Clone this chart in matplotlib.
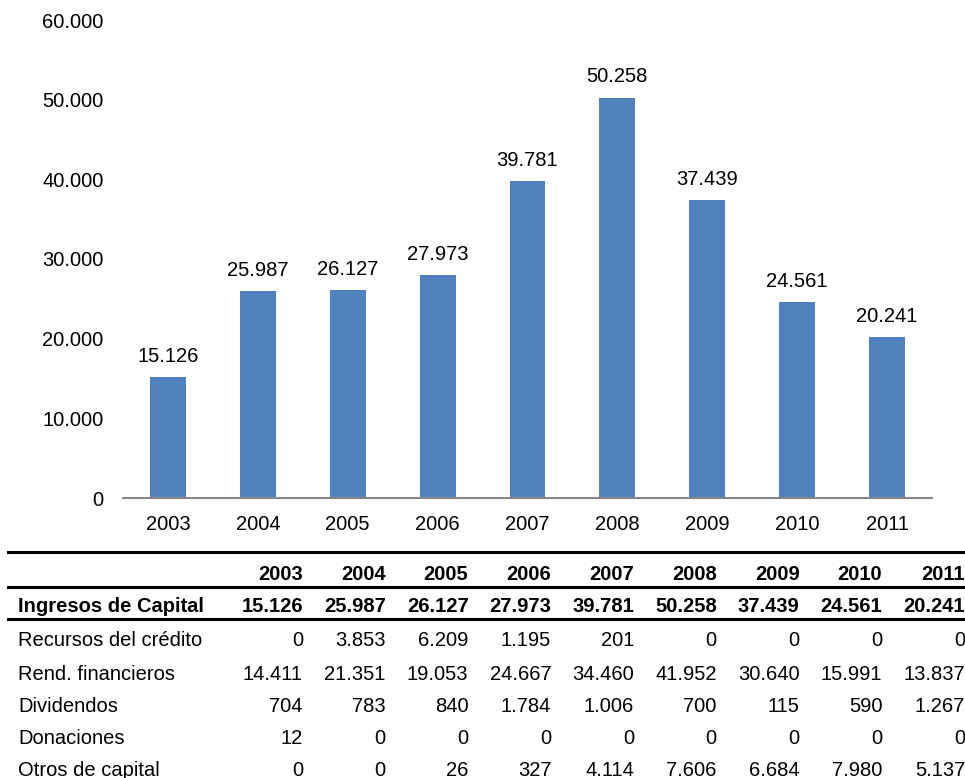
import matplotlib.pyplot as plt
from matplotlib.lines import Line2D

plt.rcParams['font.family'] = ['Liberation Sans', 'DejaVu Sans']

years = ['2003', '2004', '2005', '2006', '2007', '2008', '2009', '2010', '2011']
ingresos = [15126, 25987, 26127, 27973, 39781, 50258, 37439, 24561, 20241]
recursos = [0, 3853, 6209, 1195, 201, 0, 0, 0, 0]
rendimientos = [14411, 21351, 19053, 24667, 34460, 41952, 30640, 15991, 13837]
dividendos = [704, 783, 840, 1784, 1006, 700, 115, 590, 1267]
donaciones = [12, 0, 0, 0, 0, 0, 0, 0, 0]
otros = [0, 0, 26, 327, 4114, 7606, 6684, 7980, 5137]

row_names = ['Recursos del crédito', 'Rend. financieros', 'Dividendos',
             'Donaciones', 'Otros de capital']
row_values = [recursos, rendimientos, dividendos, donaciones, otros]

FS = 14.5


def fmt(v):
    return f'{v:,.0f}'.replace(',', '.')


W, H = 965, 778
fig = plt.figure(figsize=(W / 100, H / 100), dpi=100)

# bar chart
ax = fig.add_axes([123 / W, 1 - 498 / H, (932 - 123) / W, (498 - 20) / H])
x = range(len(years))
ax.bar(x, ingresos, width=0.4, color='#4f81bd')
for i, v in enumerate(ingresos):
    ax.text(i, v + 1400, fmt(v), ha='center', va='bottom', fontsize=FS)

ax.set_ylim(0, 60000)
ax.set_xlim(-0.5, len(years) - 0.5)
ax.set_yticks(range(0, 60001, 10000))
ax.set_yticklabels([fmt(v) for v in range(0, 60001, 10000)], fontsize=FS)
ax.set_xticks(list(x))
ax.set_xticklabels(years, fontsize=FS)
ax.tick_params(axis='y', length=0, pad=14)
ax.tick_params(axis='x', length=0, pad=12)
for s in ['top', 'right', 'left']:
    ax.spines[s].set_visible(False)
ax.spines['bottom'].set_color('#868686')
ax.spines['bottom'].set_linewidth(1.5)


# data table below the chart
def fy(y):
    return 1 - y / H


col_right = [303 + 82.75 * i for i in range(len(years))]
label_x = 18 / W

for yl in [552, 587, 619]:
    fig.add_artist(Line2D([8 / W, 1], [fy(yl), fy(yl)], color='black',
                          lw=2.2, transform=fig.transFigure))

for i, yr in enumerate(years):
    fig.text(col_right[i] / W, fy(574), yr, ha='right', va='center',
             fontsize=FS, fontweight='bold')

fig.text(label_x, fy(606), 'Ingresos de Capital', ha='left', va='center',
         fontsize=FS, fontweight='bold')
for i, v in enumerate(ingresos):
    fig.text(col_right[i] / W, fy(606), fmt(v), ha='right', va='center',
             fontsize=FS, fontweight='bold')

row_y = [641, 674, 707, 739, 770]
for name, vals, yy in zip(row_names, row_values, row_y):
    fig.text(label_x, fy(yy), name, ha='left', va='center', fontsize=FS)
    for i, v in enumerate(vals):
        fig.text(col_right[i] / W, fy(yy), fmt(v), ha='right', va='center',
                 fontsize=FS)

fig.savefig('out.png', dpi=100)
